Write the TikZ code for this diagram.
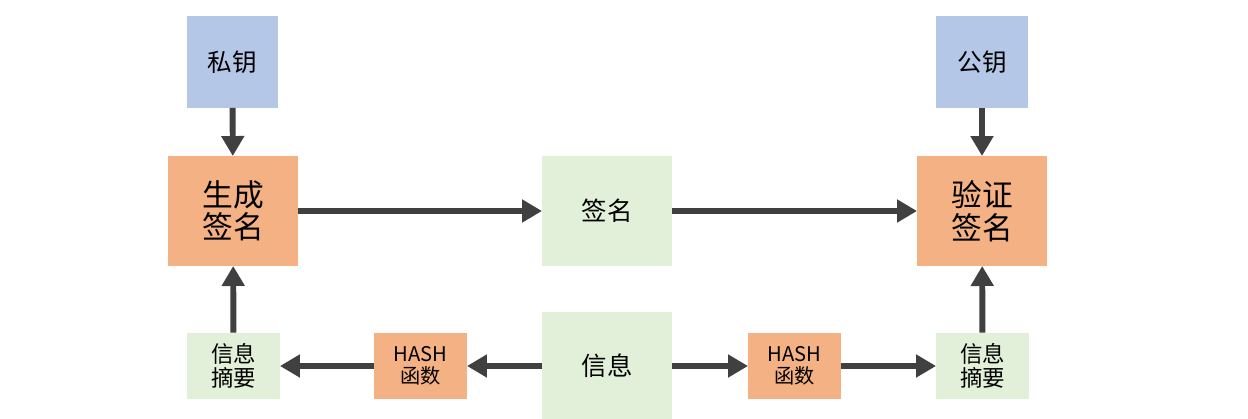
\documentclass[tikz,border=0pt]{standalone}
\usepackage{fontspec}
\setmainfont{Noto Sans CJK SC}
\usetikzlibrary{arrows.meta}
\definecolor{keyc}{HTML}{B4C7E7}
\definecolor{procc}{HTML}{F4B183}
\definecolor{datac}{HTML}{E2F0D9}
\tikzset{box/.style={align=center,inner sep=0pt,outer sep=0pt},
keybox/.style={box,fill=keyc,minimum width=1.83cm,minimum height=1.84cm,font=\fontsize{14}{16}\selectfont},
bigbox/.style={box,minimum width=2.6cm,minimum height=2.2cm},
procbox/.style={bigbox,fill=procc,font=\fontsize{17.5}{18.5}\selectfont},
smallbox/.style={box,minimum width=1.86cm,minimum height=1.34cm},
arrow/.style={-{Triangle[length=4mm,width=4.4mm]},line width=3.4pt,draw=black!75}}
\begin{document}
\begin{tikzpicture}[x=0.02cm,y=-0.02cm]
\fill[white] (0,0) rectangle (1248,419);
\useasboundingbox (0,0) rectangle (1248,419);
\node[keybox] (sk) at (232.5,62) {私钥};
\node[keybox] (pk) at (982,62) {公钥};
\node[procbox] (gen) at (233,211) {生成\\签名};
\node[bigbox,fill=datac,font=\fontsize{14.5}{16}\selectfont] (sig) at (607,211) {签名};
\node[procbox] (ver) at (982,211) {验证\\签名};
\node[bigbox,fill=datac,minimum height=2.16cm,font=\fontsize{14.5}{16}\selectfont] (msg) at (607,366) {信息};
\node[smallbox,fill=datac,font=\fontsize{12.8}{13.5}\selectfont] (dl) at (233.5,366) {信息\\摘要};
\node[smallbox,fill=procc,font=\fontsize{11.5}{12.5}\selectfont] (hl) at (420.5,366) {HASH\\函数};
\node[smallbox,fill=procc,font=\fontsize{11.5}{12.5}\selectfont] (hr) at (794.5,366) {HASH\\函数};
\node[smallbox,fill=datac,font=\fontsize{12.8}{13.5}\selectfont] (dr) at (982.5,366) {信息\\摘要};
\draw[arrow](sk)--(gen);\draw[arrow](pk)--(ver);
\draw[arrow](gen)--(sig);\draw[arrow](sig)--(ver);
\draw[arrow](msg)--(hl);\draw[arrow](hl)--(dl);\draw[arrow](dl)--(gen);
\draw[arrow](msg)--(hr);\draw[arrow](hr)--(dr);\draw[arrow](dr)--(ver);
\end{tikzpicture}
\end{document}
